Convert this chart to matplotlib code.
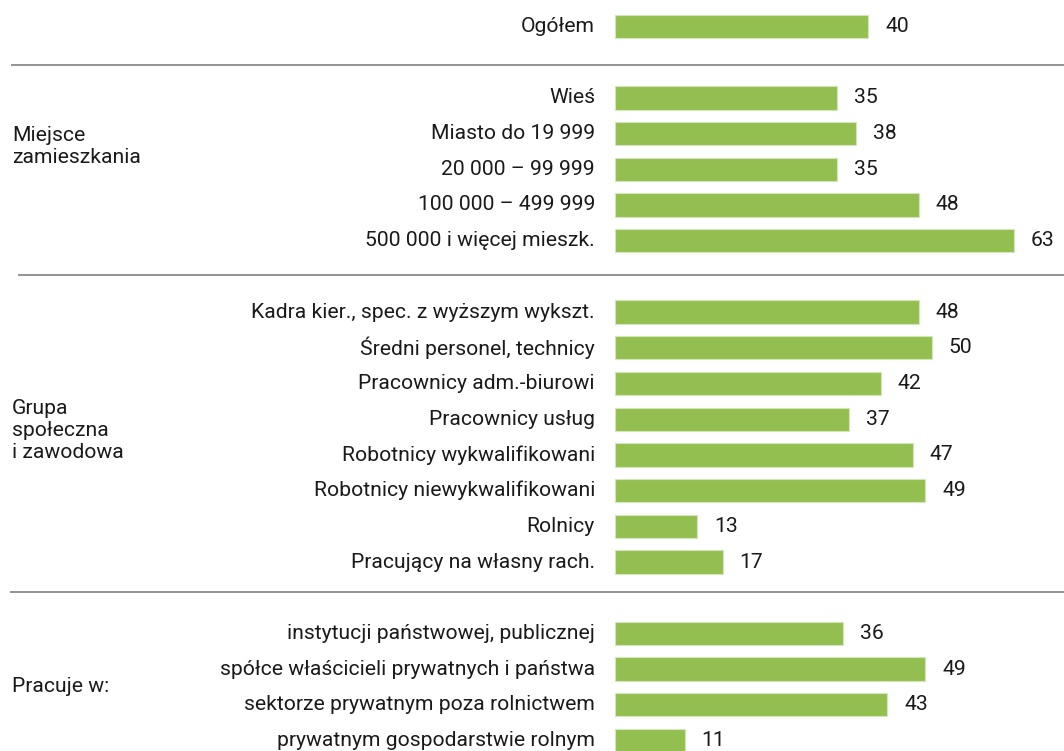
import matplotlib
matplotlib.use('Agg')
import matplotlib.pyplot as plt

plt.rcParams['font.family'] = ['Roboto', 'DejaVu Sans']

# categories and values, top to bottom
labels = ['Ogółem',
          'Wieś', 'Miasto do 19 999', '20 000 – 99 999', '100 000 – 499 999',
          '500 000 i więcej mieszk.',
          'Kadra kier., spec. z wyższym wykszt.', 'Średni personel, technicy',
          'Pracownicy adm.-biurowi', 'Pracownicy usług', 'Robotnicy wykwalifikowani',
          'Robotnicy niewykwalifikowani', 'Rolnicy', 'Pracujący na własny rach.',
          'instytucji państwowej, publicznej', 'spółce właścicieli prywatnych i państwa',
          'sektorze prywatnym poza rolnictwem', 'prywatnym gospodarstwie rolnym']
values = [40,
          35, 38, 35, 48, 63,
          48, 50, 42, 37, 47, 49, 13, 17,
          36, 49, 43, 11]
# row index of each bar (blank rows hold the separators)
rows = [0, 2, 3, 4, 5, 6, 8, 9, 10, 11, 12, 13, 14, 15, 17, 18, 19, 20]

group_names = ['Miejsce\nzamieszkania', 'Grupa\nspołeczna\ni zawodowa', 'Pracuje w:']
group_pos = [3.37, 11.33, 18.5]
sep_pos = [1.08, 6.96, 15.85]
sep_start = [11, 18, 10]  # pixels

W, H = 1064, 751
px_per_unit = 6.33
x0_px = 615
row_h = 35.7
y0_px = 26.5

fig = plt.figure(figsize=(W / 100, H / 100), dpi=100)
ax = fig.add_axes([0, 0, 1, 1])
ax.set_xlim(-x0_px / px_per_unit, (W - x0_px) / px_per_unit)
ax.set_ylim((H - y0_px) / row_h, -y0_px / row_h)
ax.axis('off')

ax.barh(rows, values, height=0.65, color='#93bf50', edgecolor='#d3e6bb', linewidth=0.8)

fs = 15.2
for r, v, lab in zip(rows, values, labels):
    ax.text(v + 17 / px_per_unit, r, str(v), ha='left', va='center', fontsize=fs, color='#1a1a1a')
    ax.text(-20 / px_per_unit, r, lab, ha='right', va='center', fontsize=fs, color='#1a1a1a')

for g, y in zip(group_names, group_pos):
    ax.text((12 - x0_px) / px_per_unit, y, g, ha='left', va='center', fontsize=fs,
            color='#1a1a1a', linespacing=1.2)

for y, xs in zip(sep_pos, sep_start):
    ax.plot([(xs - x0_px) / px_per_unit, (W - x0_px) / px_per_unit], [y, y],
            color='#8a8a8a', lw=1.3, solid_capstyle='butt')

fig.savefig('out.png', dpi=100)
